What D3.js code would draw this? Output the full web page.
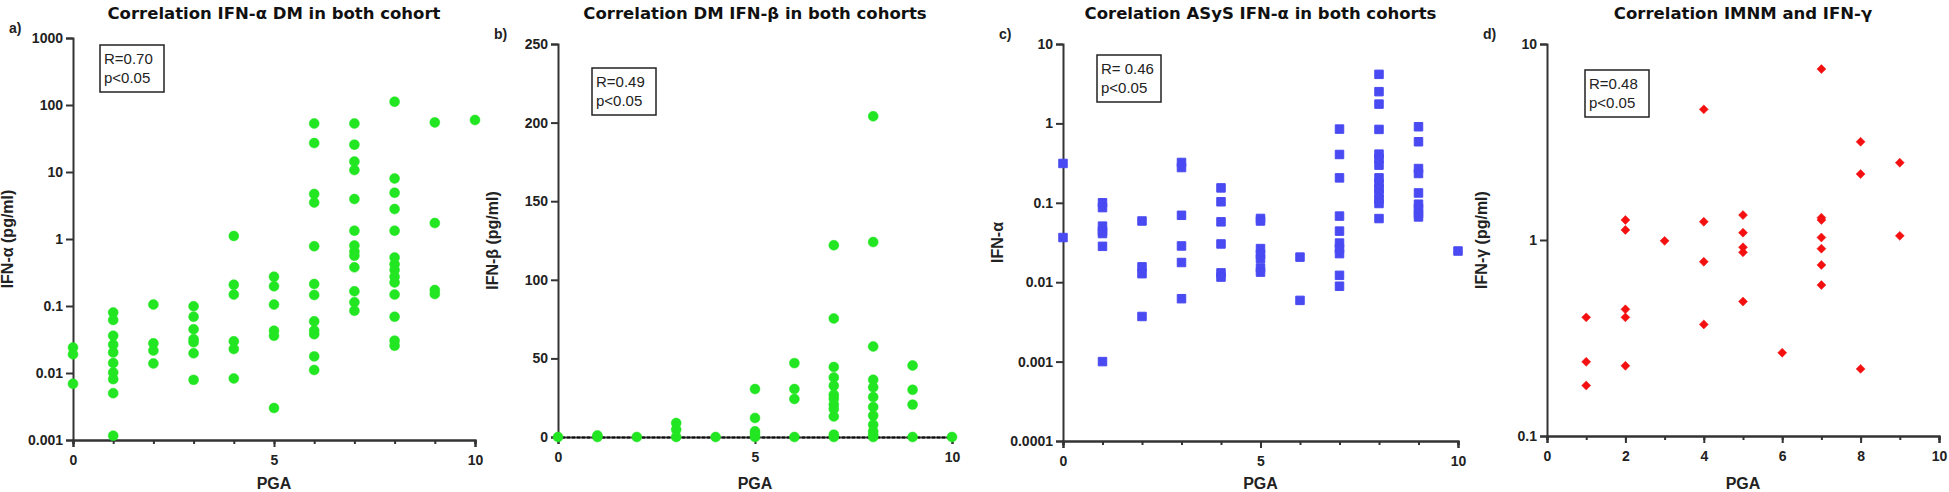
<!DOCTYPE html>
<html lang="en">
<head>
    <meta charset="UTF-8">
    <title>PGA correlations</title>
    <script src="https://d3js.org/d3.v7.min.js"></script>
    <style>
        body { margin: 0; background: #fff; }
        .tick text { font-family: "Liberation Sans", Arial, sans-serif; font-weight: bold; font-size: 14px; fill: #222; }
        .domain, .tick line { stroke: #333; stroke-width: 2px; }
    </style>
</head>
<body>
    <script type="text/javascript">

        // values per PGA score (array index = PGA 0..10)
        var dmAlpha = [
            [0.024, 0.019, 0.0069],
            [0.080, 0.062, 0.036, 0.0265, 0.0203, 0.0141, 0.0102, 0.0081, 0.0050, 0.00116],
            [0.105, 0.0277, 0.0216, 0.0139],
            [0.099, 0.069, 0.045, 0.032, 0.0287, 0.0197, 0.0079],
            [1.11, 0.208, 0.148, 0.0297, 0.0228, 0.0083],
            [0.274, 0.197, 0.105, 0.0428, 0.036, 0.0030],
            [53, 27, 4.7, 3.5, 0.78, 0.213, 0.146, 0.059, 0.043, 0.038, 0.0177, 0.0111],
            [53, 25.6, 14.3, 10.7, 3.95, 1.33, 0.80, 0.65, 0.564, 0.378, 0.166, 0.114, 0.085],
            [112, 8.0, 4.9, 2.8, 1.33, 0.53, 0.42, 0.344, 0.274, 0.225, 0.148, 0.069, 0.0304, 0.0256],
            [55, 1.73, 0.173, 0.151],
            [59.7]
        ];

        var dmBeta = [
            [0],
            [1, 0],
            [0],
            [8.9, 4.7, 0],
            [0],
            [30.5, 12.1, 3.6, 1.9, 0],
            [47, 30.5, 24.2, 0],
            [122, 75.4, 44.5, 37.9, 32.6, 26.9, 24.4, 20.6, 17.8, 13.1, 1.5, 0],
            [204, 124, 57.6, 36.4, 31.6, 25.4, 19.1, 13.6, 7.8, 3.6, 1.5, 0],
            [45.5, 30, 20.6, 0],
            [0]
        ];

        var asysAlpha = [
            [0.313, 0.0365],
            [0.1, 0.087, 0.0508, 0.044, 0.041, 0.0283, 0.001],
            [0.059, 0.0156, 0.0128, 0.0037],
            [0.322, 0.278, 0.0696, 0.0286, 0.0177, 0.0062],
            [0.154, 0.103, 0.0576, 0.0303, 0.0131, 0.0116],
            [0.0635, 0.059, 0.0265, 0.0224, 0.0198, 0.0151, 0.0134],
            [0.0207, 0.0059],
            [0.848, 0.406, 0.206, 0.068, 0.044, 0.0311, 0.0265, 0.0229, 0.0122, 0.0089],
            [4.15, 2.51, 1.75, 0.84, 0.41, 0.362, 0.298, 0.206, 0.175, 0.151, 0.131, 0.110, 0.098, 0.0633],
            [0.908, 0.587, 0.27, 0.234, 0.133, 0.096, 0.085, 0.0732, 0.0664],
            [0.0247]
        ];

        var imnmGamma = [
            [],
            [0.403, 0.239, 0.181],
            [1.265, 1.125, 0.443, 0.403, 0.228],
            [0.99],
            [4.64, 1.24, 0.775, 0.371],
            [1.34, 1.09, 0.918, 0.865, 0.485],
            [0.266],
            [7.45, 1.30, 1.265, 1.03, 0.903, 0.746, 0.589],
            [3.17, 2.17, 0.22],
            [2.48, 1.05],
            []
        ];

        var logTicksA = [0.001, 0.01, 0.1, 1, 10, 100, 1000];
        var linTicksB = [0, 50, 100, 150, 200, 250];
        var logTicksC = [0.0001, 0.001, 0.01, 0.1, 1, 10];
        var logTicksD = [0.1, 1, 10];

        var panels = [
            { letter: "a)", title: "Correlation IFN-\u03b1 DM in both cohort", ylab: "IFN-\u03b1 (pg/ml)",
              data: dmAlpha, log: true, domain: [0.001, 1000], ticks: logTicksA, xTicks: [0, 5, 10],
              left: 73, right: 475, top: 38, bottom: 440, shape: "circle", color: "#22e622",
              r: "R=0.70", box: [100, 45] },
            { letter: "b)", title: "Correlation DM IFN-\u03b2 in both cohorts", ylab: "IFN-\u03b2 (pg/ml)",
              data: dmBeta, log: false, domain: [0, 250], ticks: linTicksB, xTicks: [0, 5, 10],
              left: 558, right: 952, top: 44, bottom: 437, shape: "circle", color: "#22e622",
              r: "R=0.49", box: [592, 68] },
            { letter: "c)", title: "Corelation ASyS IFN-\u03b1 in both cohorts", ylab: "IFN-\u03b1",
              data: asysAlpha, log: true, domain: [0.0001, 10], ticks: logTicksC, xTicks: [0, 5, 10],
              left: 1063, right: 1458, top: 44, bottom: 441, shape: "square", color: "#4a4af2",
              r: "R= 0.46", box: [1097, 55] },
            { letter: "d)", title: "Correlation IMNM and IFN-\u03b3", ylab: "IFN-\u03b3 (pg/ml)",
              data: imnmGamma, log: true, domain: [0.1, 10], ticks: logTicksD, xTicks: [0, 2, 4, 6, 8, 10],
              left: 1547, right: 1939, top: 44, bottom: 436, shape: "diamond", color: "#f41010",
              r: "R=0.48", box: [1585, 70] }
        ];

        var svg = d3.select("body").append("svg")
            .attr("width", 1949)
            .attr("height", 492);

        panels.forEach(function (p) {
            var g = svg.append("g");

            var x = d3.scaleLinear().domain([0, 10]).range([p.left, p.right]);
            var y = (p.log ? d3.scaleLog() : d3.scaleLinear()).domain(p.domain).range([p.bottom, p.top]);

            // minor x ticks at each integer
            var xAxis = d3.axisBottom(x)
                .tickValues(d3.range(0, 11))
                .tickSize(4)
                .tickFormat("");
            g.append("g").attr("transform", "translate(0," + p.bottom + ")").call(xAxis);

            var xAxisMain = d3.axisBottom(x)
                .tickValues(p.xTicks)
                .tickSize(7)
                .tickPadding(8)
                .tickFormat(d3.format("d"));
            var xg = g.append("g").attr("transform", "translate(0," + p.bottom + ")").call(xAxisMain);
            if (!p.log) {
                xg.select(".domain").attr("stroke-dasharray", "3,2").style("stroke", "#111");
            }

            var yAxis = d3.axisLeft(y)
                .tickValues(p.ticks)
                .tickSize(7)
                .tickPadding(3)
                .tickFormat(function (d) { return String(d); });
            g.append("g").attr("transform", "translate(" + p.left + ",0)").call(yAxis);

            // points
            var pts = [];
            p.data.forEach(function (vals, i) {
                vals.forEach(function (v) { pts.push({ x: i, v: v }); });
            });

            var sym;
            if (p.shape === "circle") sym = d3.symbol().type(d3.symbolCircle).size(78);
            else sym = d3.symbol().type(d3.symbolSquare).size(p.shape === "square" ? 72 : 40);

            g.selectAll("path.pt")
                .data(pts)
                .enter()
                .append("path")
                .attr("class", "pt")
                .attr("d", sym)
                .attr("transform", function (d) {
                    var t = "translate(" + x(d.x) + "," + y(d.v) + ")";
                    return p.shape === "diamond" ? t + " rotate(45)" : t;
                })
                .attr("fill", p.color)
                .attr("stroke", p.color)
                .attr("stroke-width", p.shape === "square" ? 1 : 0.5)
                .attr("stroke-linejoin", "round");

            // title
            g.append("text")
                .attr("x", (p.left + p.right) / 2)
                .attr("y", 19)
                .attr("text-anchor", "middle")
                .attr("font-family", "DejaVu Sans, sans-serif")
                .attr("font-weight", "bold")
                .attr("font-size", "16.5px")
                .attr("fill", "#111")
                .text(p.title);

            g.append("text")
                .attr("x", p.left - 64)
                .attr("y", p.top - 5)
                .attr("font-family", "Liberation Sans, Arial, sans-serif")
                .attr("font-weight", "bold")
                .attr("font-size", "14px")
                .attr("fill", "#222")
                .text(p.letter);

            g.append("text")
                .attr("transform", "translate(" + (p.left - 60) + "," + ((p.top + p.bottom) / 2) + ") rotate(-90)")
                .attr("text-anchor", "middle")
                .attr("font-family", "Liberation Sans, Arial, sans-serif")
                .attr("font-weight", "bold")
                .attr("font-size", "16px")
                .attr("fill", "#222")
                .text(p.ylab);

            g.append("text")
                .attr("x", (p.left + p.right) / 2)
                .attr("y", 489)
                .attr("text-anchor", "middle")
                .attr("font-family", "Liberation Sans, Arial, sans-serif")
                .attr("font-weight", "bold")
                .attr("font-size", "16px")
                .attr("fill", "#222")
                .text("PGA");

            // stats box
            var bx = g.append("g").attr("transform", "translate(" + p.box[0] + "," + p.box[1] + ")");
            bx.append("rect")
                .attr("width", 64)
                .attr("height", 47)
                .attr("fill", "#fff")
                .attr("stroke", "#222")
                .attr("stroke-width", 1.5);
            bx.append("text")
                .attr("x", 4).attr("y", 19)
                .attr("font-family", "Liberation Sans, Arial, sans-serif")
                .attr("font-size", "15px")
                .attr("fill", "#222")
                .text(p.r);
            bx.append("text")
                .attr("x", 4).attr("y", 38)
                .attr("font-family", "Liberation Sans, Arial, sans-serif")
                .attr("font-size", "15px")
                .attr("fill", "#222")
                .text("p<0.05");
        });

    </script>
</body>
</html>
